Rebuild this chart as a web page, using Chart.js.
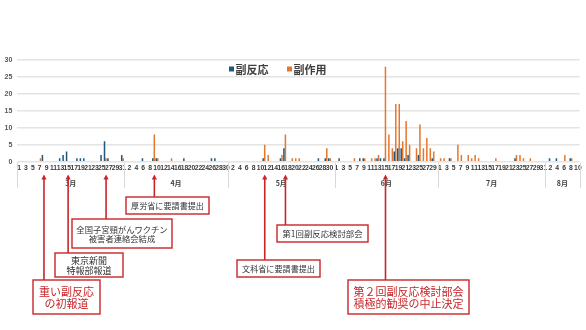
<!DOCTYPE html>
<html><head><meta charset="utf-8">
<script src="https://cdn.jsdelivr.net/npm/chart.js@4.4.1/dist/chart.umd.min.js"></script>
<style>html,body{margin:0;padding:0;background:#fff;}#wrap{width:586px;height:330px;position:relative;}</style>
</head><body><div id="wrap"><canvas id="c" width="586" height="330"></canvas></div>
<script>
// ---- data ----
const monthNames = ['3月','4月','5月','6月','7月','8月'];
const monthDays  = [31,30,31,30,31,10];
const seriesNames = ['副反応','副作用'];
const yTicks = [0,5,10,15,20,25,30];

// 副反応 (per month, day 1..n)
const hannoMar = [0,0,0,0,0,0,0,2,0,0, 0,0,1,2,3,0,0,1,1,1, 0,0,0,0,2,6,1,0,0,0, 2];
const hannoApr = [0,0,0,0,0,1,0,0,1,1, 0,0,0,0,0,0,0,1,0,0, 0,0,0,0,0,1,1,0,0,0];
const hannoMay = [0,0,0,0,0,0,0,0,0,0, 1,0,0,0,0,1,4,0,0,0, 0,0,0,0,0,0,1,0,1,1, 0];
const hannoJun = [0,1,0,0,0,0,0,1,1,0, 0,0,1,1,1,0,0,3,4,4, 1,2,0,0,2,0,0,0,1,0];
const hannoJul = [0,0,0,1,0,0,0,0,0,0, 0,0,0,0,0,0,0,0,0,0, 0,0,1,0,0,0,0,0,0,0, 0];
const hannoAug = [0,1,0,1,0,0,0,1,0,0];
// 副作用
const sayoMar = [0,0,0,0,0,0,1,0,0,0, 0,0,0,0,0,0,0,0,0,0, 0,0,0,0,0,1,0,0,0,0, 1];
const sayoApr = [0,0,0,0,0,0,0,0,8,1, 0,0,0,1,0,0,0,0,0,0, 0,0,0,0,0,0,0,0,0,0];
const sayoMay = [0,0,0,0,0,0,0,0,0,0, 5,2,0,0,0,2,8,0,1,1, 1,0,0,0,0,0,0,0,4,1, 0];
const sayoJun = [0,0,0,0,0,1,0,0,1,0, 1,1,2,0,28,8,4,17,17,6, 12,5,0,4,11,4,7,4,3,0];
const sayoJul = [1,1,0,1,0,5,2,0,2,1, 2,1,0,0,0,0,1,0,0,0, 0,0,2,2,1,0,1,0,0,0, 0];
const sayoAug = [0,0,0,0,0,2,0,1,0,0];

// events: month index, day, text lines
const events = [
  {m:0, d:8,  lines:['重い副反応','の初報道'], strong:true},
  {m:0, d:15, lines:['東京新聞','特報部報道']},
  {m:0, d:26, lines:['全国子宮頸がんワクチン','被害者連絡会結成']},
  {m:1, d:9,  lines:['厚労省に要請書提出']},
  {m:2, d:11, lines:['文科省に要請書提出']},
  {m:2, d:17, lines:['第1回副反応検討部会']},
  {m:3, d:15, lines:['第２回副反応検討部会','積極的勧奨の中止決定'], strong:true}
];
// ---- layout (boxes: left, top, width, height, font size) ----
const boxLayout = [
  [33,280,67,34,11],
  [55,253,68,24,9],
  [72,219,100,29,8.3],
  [126,197,83,17,8.1],
  [237,260,83,17,8.1],
  [277,225,91,17,8.4],
  [348,280,121,34,11]
];

const BLUE = '#1F5A7E', ORANGE = '#E5772E', RED = '#C8262A';

const labels = [], dayOfIdx = [], monthStart = [];
monthNames.forEach((mn, m) => {
  monthStart.push(labels.length);
  for (let d = 1; d <= monthDays[m]; d++) { labels.push((m+3)+'/'+d); dayOfIdx.push(d); }
});
const hanno = [].concat(hannoMar, hannoApr, hannoMay, hannoJun, hannoJul, hannoAug);
const sayo  = [].concat(sayoMar, sayoApr, sayoMay, sayoJun, sayoJul, sayoAug);

const JP = '"Noto Sans CJK JP", "Noto Sans", sans-serif';

const overlay = {
  id: 'overlay',
  afterDraw(chart) {
    const ctx = chart.ctx, xs = chart.scales.x, area = chart.chartArea;
    ctx.save();
    // legend
    let lx = 229;
    chart.data.datasets.forEach((ds, k) => {
      ctx.fillStyle = ds.backgroundColor;
      ctx.fillRect(lx, 66.5, 5, 5);
      ctx.font = 'bold 11px ' + JP;
      ctx.fillStyle = '#404040';
      ctx.textBaseline = 'middle'; ctx.textAlign = 'left';
      ctx.fillText(ds.label, lx + 6.5, 69.5);
      lx += 58;
    });
    // month separators + names
    const half = (xs.getPixelForValue(1) - xs.getPixelForValue(0)) / 2;
    ctx.strokeStyle = '#d9d9d9'; ctx.lineWidth = 1;
    const bounds = monthStart.concat([labels.length]);
    bounds.forEach(b => {
      const x = Math.round(xs.getPixelForValue(b) - half) + 0.5;
      ctx.beginPath(); ctx.moveTo(x, area.bottom + 1); ctx.lineTo(x, 188); ctx.stroke();
    });
    ctx.fillStyle = '#404040'; ctx.textAlign = 'center'; ctx.textBaseline = 'middle';
    monthNames.forEach((mn, m) => {
      const a = xs.getPixelForValue(bounds[m]) - half, b = xs.getPixelForValue(bounds[m+1]) - half;
      ctx.font = 'bold 7px ' + JP;
      ctx.fillText(mn, (a + b) / 2, 183);
    });
    // annotations
    const tipY = 174.5;
    events.forEach((ev, k) => {
      const [bx, by, bw, bh, fs] = boxLayout[k];
      const ax = xs.getPixelForValue(monthStart[ev.m] + ev.d - 1) + 0.8;
      ctx.strokeStyle = RED; ctx.fillStyle = RED; ctx.lineWidth = 1.6;
      ctx.beginPath(); ctx.moveTo(ax, by); ctx.lineTo(ax, tipY + 4); ctx.stroke();
      ctx.beginPath(); ctx.moveTo(ax, tipY); ctx.lineTo(ax - 2.6, tipY + 5); ctx.lineTo(ax + 2.6, tipY + 5); ctx.closePath(); ctx.fill();
      ctx.fillStyle = '#fff'; ctx.fillRect(bx, by, bw, bh);
      ctx.lineWidth = 1.4; ctx.strokeRect(bx, by, bw, bh);
      ctx.fillStyle = ev.strong ? RED : '#333';
      ctx.font = fs + 'px ' + JP;
      ctx.textAlign = 'center'; ctx.textBaseline = 'middle';
      const n = ev.lines.length, lh = fs * 1.12;
      ev.lines.forEach((t, j) => {
        ctx.fillText(t, bx + bw / 2, by + bh / 2 + (j - (n - 1) / 2) * lh + 0.5);
      });
    });
    ctx.restore();
  }
};

new Chart(document.getElementById('c'), {
  type: 'bar',
  data: {
    labels,
    datasets: [
      {label: seriesNames[0], data: hanno, backgroundColor: BLUE, categoryPercentage: 0.88, barPercentage: 1},
      {label: seriesNames[1], data: sayo, backgroundColor: ORANGE, categoryPercentage: 0.88, barPercentage: 1}
    ]
  },
  options: {
    responsive: false, animation: false, devicePixelRatio: 1,
    layout: {padding: {left: 0, right: 6.4, top: 60, bottom: 0}},
    plugins: {legend: {display: false}, tooltip: {enabled: false}},
    scales: {
      x: {
        grid: {display: false, drawTicks: false}, border: {display: false},
        ticks: {autoSkip: false, maxRotation: 0, minRotation: 0, padding: 2.5,
          font: {size: 6.8, weight: 'bold', family: '"Liberation Sans", Arial, sans-serif'}, color: '#3a3a3a',
          callback: (v, i) => (i % 2 === 0 ? String(dayOfIdx[i]) : '')},
        afterFit: s => { s.height = 330 - 161.7; }
      },
      y: {
        min: 0, max: 30,
        afterBuildTicks: s => { s.ticks = yTicks.map(v => ({value: v})); },
        ticks: {padding: 5, font: {size: 7, weight: 'bold', family: '"Liberation Sans", Arial, sans-serif'}, color: '#595959'},
        grid: {color: '#e4e4e4', lineWidth: 1.6, drawTicks: false}, border: {display: false},
        afterFit: s => { s.width = 17.3; }
      }
    }
  },
  plugins: [overlay]
});
</script></body></html>
